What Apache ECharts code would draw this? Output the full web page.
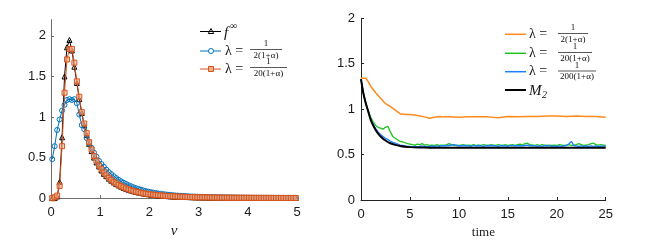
<!DOCTYPE html>
<html><head><meta charset="utf-8">
<script src="https://cdn.jsdelivr.net/npm/echarts@6/dist/echarts.min.js"></script>
<style>html,body{margin:0;padding:0;background:#fff}#c{width:651px;height:244px}</style>
</head><body><div id="c"></div>
<script>
// ---- Left panel: v grid and densities ----
const vGrid = [0.025,0.075,0.125,0.175,0.225,0.275,0.325,0.375,0.425,0.475,
0.525,0.575,0.625,0.675,0.725,0.775,0.825,0.875,0.925,0.975,
1.025,1.075,1.125,1.175,1.225,1.275,1.325,1.375,1.425,1.475,
1.525,1.575,1.625,1.675,1.725,1.775,1.825,1.875,1.925,1.975,
2.025,2.075,2.125,2.175,2.225,2.275,2.325,2.375,2.425,2.475,
2.525,2.575,2.625,2.675,2.725,2.775,2.825,2.875,2.925,2.975,
3.025,3.075,3.125,3.175,3.225,3.275,3.325,3.375,3.425,3.475,
3.525,3.575,3.625,3.675,3.725,3.775,3.825,3.875,3.925,3.975,
4.025,4.075,4.125,4.175,4.225,4.275,4.325,4.375,4.425,4.475,
4.525,4.575,4.625,4.675,4.725,4.775,4.825,4.875,4.925,4.975];
const fInf = [0,0,0.02,0.2,0.75,1.5,1.86,1.95,1.82,1.62,
1.42,1.22,1.05,0.9,0.78,0.67,0.58,0.5,0.44,0.39,
0.34,0.3,0.27,0.24,0.215,0.193,0.173,0.156,0.141,0.127,
0.115,0.104,0.094,0.085,0.077,0.07,0.064,0.058,0.053,0.048,
0.044,0.04,0.037,0.034,0.031,0.028,0.026,0.024,0.022,0.02,
0.019,0.017,0.016,0.015,0.014,0.013,0.012,0.011,0.01,0.0095,
0.009,0.0085,0.008,0.0075,0.007,0.0066,0.0062,0.0058,0.0055,0.0052,
0.0049,0.0046,0.0044,0.0042,0.004,0.0038,0.0036,0.0034,0.0032,0.003,
0.0029,0.0028,0.0027,0.0026,0.0025,0.0024,0.0023,0.0022,0.0021,0.002,
0.0019,0.0018,0.0018,0.0017,0.0016,0.0016,0.0015,0.0015,0.0014,0.0014];
const fLam2 = [0.48,0.64,0.84,0.97,1.08,1.15,1.21,1.22,1.21,1.22,
1.17,1.03,0.9,0.85,0.74,0.68,0.62,0.56,0.51,0.46,
0.42,0.385,0.35,0.32,0.295,0.27,0.247,0.226,0.207,0.19,
0.174,0.159,0.146,0.134,0.123,0.113,0.104,0.095,0.087,0.08,
0.074,0.068,0.063,0.058,0.053,0.049,0.045,0.042,0.039,0.036,
0.033,0.031,0.029,0.027,0.025,0.023,0.021,0.02,0.019,0.018,
0.017,0.016,0.015,0.014,0.013,0.012,0.0115,0.011,0.0105,0.01,
0.0095,0.009,0.0086,0.0082,0.0078,0.0074,0.007,0.0067,0.0064,0.0061,
0.0058,0.0055,0.0053,0.0051,0.0049,0.0047,0.0045,0.0043,0.0041,0.004,
0.0038,0.0037,0.0036,0.0035,0.0034,0.0033,0.0032,0.0031,0.003,0.003];
const fLam20 = [0,0.01,0.03,0.15,0.64,1.3,1.71,1.84,1.84,1.67,
1.44,1.25,1.06,0.92,0.8,0.69,0.6,0.52,0.46,0.4,
0.355,0.315,0.28,0.25,0.224,0.2,0.18,0.162,0.146,0.132,
0.119,0.108,0.098,0.089,0.08,0.073,0.066,0.06,0.055,0.05,
0.046,0.042,0.039,0.036,0.033,0.03,0.028,0.026,0.024,0.022,
0.02,0.019,0.017,0.016,0.015,0.014,0.013,0.012,0.011,0.01,
0.0095,0.009,0.0085,0.008,0.0075,0.007,0.0066,0.0062,0.0058,0.0055,
0.0052,0.0049,0.0046,0.0044,0.0042,0.004,0.0038,0.0036,0.0034,0.0032,
0.003,0.0029,0.0028,0.0027,0.0026,0.0025,0.0024,0.0023,0.0022,0.0021,
0.002,0.0019,0.0018,0.0018,0.0017,0.0016,0.0016,0.0015,0.0015,0.0014];

// ---- Right panel: time series ----
const tFine = [0,0.25,0.5,0.75,1,1.25,1.5,1.75,2,2.25,2.5,2.75,3,3.25,3.5,3.75,4,4.25,4.5,4.75,
5,5.25,5.5,5.75,6,6.25,6.5,6.75,7,7.25,7.5,7.75,8,8.25,8.5,8.75,9,9.25,9.5,9.75,
10,10.25,10.5,10.75,11,11.25,11.5,11.75,12,12.25,12.5,12.75,13,13.25,13.5,13.75,14,14.25,14.5,14.75,
15,15.25,15.5,15.75,16,16.25,16.5,16.75,17,17.25,17.5,17.75,18,18.25,18.5,18.75,19,19.25,19.5,19.75,
20,20.25,20.5,20.75,21,21.25,21.5,21.75,22,22.25,22.5,22.75,23,23.25,23.5,23.75,24,24.25,24.5,24.75,25];
const mGreen = [1.33,1.18,1.07,0.98,0.91,0.86,0.82,0.8,0.79,0.78,0.8,0.81,0.75,0.7,0.68,0.66,0.645,0.64,0.63,0.62,
0.615,0.61,0.605,0.615,0.61,0.62,0.605,0.61,0.6,0.605,0.6,0.61,0.6,0.605,0.6,0.61,0.62,0.61,0.6,0.605,
0.6,0.605,0.61,0.6,0.605,0.6,0.61,0.6,0.605,0.6,0.61,0.605,0.6,0.61,0.605,0.6,0.61,0.605,0.6,0.61,
0.6,0.605,0.61,0.6,0.61,0.615,0.605,0.62,0.625,0.61,0.605,0.6,0.61,0.6,0.61,0.605,0.6,0.605,0.6,0.605,
0.6,0.61,0.605,0.6,0.605,0.61,0.6,0.605,0.61,0.62,0.61,0.6,0.605,0.61,0.62,0.625,0.61,0.605,0.61,0.605,0.6];
const mBlue = [1.33,1.17,1.06,0.97,0.89,0.83,0.785,0.75,0.72,0.7,0.68,0.665,0.65,0.635,0.625,0.615,0.605,0.6,0.595,0.59,
0.59,0.585,0.59,0.585,0.59,0.595,0.59,0.585,0.59,0.595,0.59,0.595,0.59,0.595,0.6,0.595,0.6,0.605,0.61,0.6,
0.595,0.6,0.595,0.6,0.595,0.59,0.6,0.595,0.6,0.595,0.59,0.595,0.6,0.595,0.6,0.595,0.59,0.595,0.6,0.595,
0.59,0.6,0.595,0.6,0.595,0.6,0.595,0.6,0.605,0.595,0.6,0.595,0.59,0.595,0.59,0.595,0.6,0.595,0.59,0.595,
0.59,0.595,0.59,0.595,0.6,0.62,0.645,0.6,0.595,0.59,0.595,0.59,0.595,0.59,0.595,0.59,0.595,0.59,0.59,0.595,0.59];
const tOrange = [0,0.5,0.75,1,1.5,2,2.5,3,3.5,4,4.5,5,5.5,6,6.5,7,7.5,8,8.5,9,10,11,12,13,14,15,16,17,18,19,20,21,22,23,24,25];
const mOrange = [1.34,1.34,1.3,1.25,1.18,1.12,1.06,1.03,0.99,0.95,0.94,0.94,0.935,0.925,0.915,0.9,0.91,0.92,0.915,0.915,0.91,0.915,0.915,0.915,0.905,0.92,0.915,0.92,0.92,0.925,0.925,0.92,0.925,0.92,0.92,0.91];
const tM2 = [0,0.25,0.5,0.75,1,1.25,1.5,1.75,2,2.5,3,3.5,4,4.5,5,6,7,8,10,15,20,25];
const mM2 = [1.33,1.17,1.06,0.97,0.88,0.82,0.77,0.73,0.7,0.655,0.625,0.607,0.595,0.587,0.582,0.578,0.576,0.575,0.575,0.575,0.575,0.575];

const leftTicksY = [0,0.5,1,1.5,2];
const legendLeft = ['f', '1', '2(1+α)', '20(1+α)'];
const legendRight = ['2(1+α)', '20(1+α)', '200(1+α)', 'M', '2'];

const pair = (xs, ys) => xs.map((x, i) => [x, ys[i]]);
const SANS = 'Liberation Sans, Arial, sans-serif';
const SERIF = 'Liberation Serif, Times New Roman, serif';

function axisCommon(col) {
  return {
    axisLine: {show: true, lineStyle: {color: col, width: 1}},
    axisTick: {show: true, inside: true, length: 3, lineStyle: {color: col}},
    splitLine: {show: false},
    axisLabel: {color: '#1a1a1a', fontSize: 13, fontFamily: SANS}
  };
}

const C_BLUE = '#0072BD', C_ORG = '#D95319';
const C2_ORG = '#FF8A1C', C2_GRN = '#1EC41E', C2_BLU = '#1A80FF';

function txt(x, y, text, size, opts) {
  return {type: 'text', silent: true, style: {
    x: x, y: y, text: text, fill: '#111',
    font: (opts && opts.italic ? 'italic ' : '') + size + 'px ' + SERIF,
    textAlign: (opts && opts.align) || 'left', textVerticalAlign: 'middle'}};
}
function hline(x1, x2, y, col, w) {
  return {type: 'line', silent: true, shape: {x1: x1, y1: y, x2: x2, y2: y}, style: {stroke: col, lineWidth: w || 1}};
}
function frac(xl, xr, yBar, num, den) {
  const cx = (xl + xr) / 2;
  return [hline(xl, xr, yBar, '#111', 0.7), txt(cx, yBar - 5.5, num, 9, {align: 'center'}), txt(cx, yBar + 6, den, 9, {align: 'center'})];
}

const graphics = [];
// left legend
graphics.push(hline(200, 221, 31.5, '#000', 1));
graphics.push({type: 'polygon', silent: true, shape: {points: [[211, 28.5], [208.3, 33.5], [213.7, 33.5]]}, style: {fill: 'none', stroke: '#000', lineWidth: 1}});
graphics.push(txt(224, 33, legendLeft[0], 15, {italic: true}));
graphics.push(txt(230, 26.5, '∞', 10));
graphics.push(hline(200, 221, 51, C_BLUE, 1));
graphics.push({type: 'circle', silent: true, shape: {cx: 211, cy: 51, r: 2.5}, style: {fill: '#fff', stroke: C_BLUE, lineWidth: 1}});
graphics.push(txt(225, 51, 'λ =', 14));
graphics.push(...frac(250, 282, 49.5, legendLeft[1], legendLeft[2]));
graphics.push(hline(200, 221, 69, C_ORG, 1));
graphics.push({type: 'rect', silent: true, shape: {x: 208.5, y: 66.5, width: 5, height: 5}, style: {fill: '#f3b08f', stroke: C_ORG, lineWidth: 1}});
graphics.push(txt(225, 69, 'λ =', 14));
graphics.push(...frac(250, 287, 67.5, legendLeft[1], legendLeft[3]));
// right legend
graphics.push(hline(505, 526, 34.3, C2_ORG, 1.5));
graphics.push(txt(529, 34.3, 'λ =', 14));
graphics.push(...frac(558, 588, 33.5, '1', legendRight[0]));
graphics.push(hline(505, 526, 53.3, C2_GRN, 1.5));
graphics.push(txt(529, 53.3, 'λ =', 14));
graphics.push(...frac(558, 592, 52.5, '1', legendRight[1]));
graphics.push(hline(505, 526, 71.7, C2_BLU, 1.5));
graphics.push(txt(529, 71.7, 'λ =', 14));
graphics.push(...frac(558, 596, 71, '1', legendRight[2]));
graphics.push(hline(505, 526, 90, '#000', 2));
graphics.push(txt(529, 91, legendRight[3], 15, {italic: true}));
graphics.push(txt(542, 95, legendRight[4], 10, {italic: true}));

const chart = echarts.init(document.getElementById('c'), null, {renderer: 'canvas'});
chart.setOption({
  animation: false,
  backgroundColor: '#fff',
  grid: [
    {left: 51, top: 19.7, width: 246, height: 179.3, containLabel: false},
    {left: 361, top: 18.3, width: 244.7, height: 181.7, containLabel: false}
  ],
  xAxis: [
    Object.assign(axisCommon('#6e6e6e'), {gridIndex: 0, type: 'value', min: 0, max: 5, interval: 1,
      name: 'v', nameLocation: 'middle', nameGap: 23,
      nameTextStyle: {fontFamily: SERIF, fontStyle: 'italic', fontSize: 15, color: '#222'}}),
    Object.assign(axisCommon('#222'), {gridIndex: 1, type: 'value', min: 0, max: 25, interval: 5,
      name: 'time', nameLocation: 'middle', nameGap: 19,
      nameTextStyle: {fontFamily: SERIF, fontSize: 13, color: '#222'}})
  ],
  yAxis: [
    (function () {
      const a = axisCommon('#6e6e6e');
      a.axisLabel.customValues = leftTicksY;
      a.axisLabel.margin = 5;
      a.axisTick.customValues = leftTicksY;
      return Object.assign(a, {gridIndex: 0, type: 'value', min: 0, max: 2.2, interval: 0.5});
    })(),
    (function () {
      const a = axisCommon('#222');
      a.axisLabel.margin = 6;
      return Object.assign(a, {gridIndex: 1, type: 'value', min: 0, max: 2, interval: 0.5});
    })()
  ],
  graphic: {elements: graphics},
  series: [
    {type: 'line', xAxisIndex: 0, yAxisIndex: 0, data: pair(vGrid, fInf), symbol: 'triangle', symbolSize: 5,
      lineStyle: {color: '#000', width: 1}, itemStyle: {color: 'rgba(0,0,0,0)', borderColor: '#000', borderWidth: 1}, z: 2},
    {type: 'line', xAxisIndex: 0, yAxisIndex: 0, data: pair(vGrid, fLam2), symbol: 'circle', symbolSize: 5,
      lineStyle: {color: C_BLUE, width: 1}, itemStyle: {color: 'rgba(255,255,255,0)', borderColor: C_BLUE, borderWidth: 1}, z: 3},
    {type: 'line', xAxisIndex: 0, yAxisIndex: 0, data: pair(vGrid, fLam20), symbol: 'rect', symbolSize: 5,
      lineStyle: {color: C_ORG, width: 1}, itemStyle: {color: 'rgba(243,176,143,0.6)', borderColor: C_ORG, borderWidth: 1}, z: 4},
    {type: 'line', xAxisIndex: 1, yAxisIndex: 1, data: pair(tOrange, mOrange), showSymbol: false,
      lineStyle: {color: C2_ORG, width: 1.5}},
    {type: 'line', xAxisIndex: 1, yAxisIndex: 1, data: pair(tFine, mGreen), showSymbol: false,
      lineStyle: {color: C2_GRN, width: 1.3}},
    {type: 'line', xAxisIndex: 1, yAxisIndex: 1, data: pair(tFine, mBlue), showSymbol: false,
      lineStyle: {color: C2_BLU, width: 1.3}},
    {type: 'line', xAxisIndex: 1, yAxisIndex: 1, data: pair(tM2, mM2), showSymbol: false, smooth: 0.3,
      lineStyle: {color: '#000', width: 2}}
  ]
});
</script></body></html>
